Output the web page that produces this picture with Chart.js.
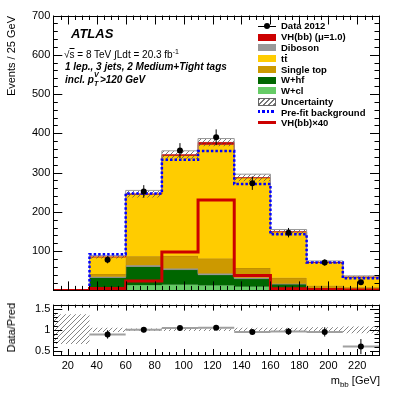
<!DOCTYPE html>
<html><head><meta charset="utf-8">
<script src="https://cdn.jsdelivr.net/npm/chart.js@4/dist/chart.umd.min.js"></script>
<style>
html,body{margin:0;padding:0;background:#fff;}
#wrap{position:relative;width:411px;height:395px;overflow:hidden;font-family:"Liberation Sans",Arial,Helvetica,sans-serif;color:#000;}
canvas{position:absolute;left:0;}
.t{position:absolute;white-space:nowrap;line-height:1;}
.lg{position:absolute;left:281px;font-size:9.5px;font-weight:bold;white-space:nowrap;line-height:1;}
.sym{position:absolute;left:258px;width:18px;}
.vt{position:absolute;white-space:nowrap;line-height:1;writing-mode:vertical-rl;transform:rotate(180deg);font-size:11px;}
</style></head>
<body><div id="wrap">
<canvas id="main" width="411" height="300" style="top:0;width:411px;height:300px"></canvas>
<canvas id="ratio" width="411" height="100" style="top:295px;width:411px;height:100px"></canvas>

<div class="t" style="left:71px;top:26.5px;font-size:13px;font-weight:bold;font-style:italic;">ATLAS</div>
<div class="t" style="left:64px;top:48px;font-size:10px;">√<span style="text-decoration:overline">s</span> = 8 TeV &#8747;Ldt = 20.3 fb<sup style="font-size:7px;vertical-align:4px">-1</sup></div>
<div class="t" style="left:65px;top:62px;font-size:10px;font-weight:bold;font-style:italic;">1 lep., 3 jets, 2 Medium+Tight tags</div>
<div class="t" style="left:65px;top:74.5px;font-size:10px;font-weight:bold;font-style:italic;">incl. p<span style="position:relative;display:inline-block;width:6px;"><span style="position:absolute;left:0;top:-4px;font-size:7px;">V</span><span style="position:relative;top:3px;font-size:7px;">T</span></span>&gt;120 GeV</div>

<div class="vt" style="left:6px;top:16px;">Events / 25 GeV</div>
<div class="vt" style="left:6px;top:303px;">Data/Pred</div>
<div class="t" style="right:31px;top:375px;font-size:11px;">m<sub style="font-size:8px;vertical-align:-3px">bb</sub> [GeV]</div>

<!-- legend -->
<div class="sym" style="top:25.5px;height:1px;background:#000;"></div>
<div class="sym" style="top:23px;left:264px;width:6px;height:6px;border-radius:3px;background:#000;"></div>
<div class="lg" style="top:21.3px;">Data 2012</div>
<div class="sym" style="top:33.5px;height:7px;background:#cc0000;"></div>
<div class="lg" style="top:32.3px;">VH(bb) (μ=1.0)</div>
<div class="sym" style="top:44.2px;height:7px;background:#999999;"></div>
<div class="lg" style="top:43px;">Diboson</div>
<div class="sym" style="top:55px;height:7px;background:#ffcc00;"></div>
<div class="lg" style="top:54.3px;">t<span style="position:relative;">t<span style="position:absolute;left:0.5px;right:0;top:0.8px;height:1px;background:#000;"></span></span></div>
<div class="sym" style="top:65.7px;height:7px;background:#cc9900;"></div>
<div class="lg" style="top:64.5px;">Single top</div>
<div class="sym" style="top:76.5px;height:7px;background:#006600;"></div>
<div class="lg" style="top:75.3px;">W+hf</div>
<div class="sym" style="top:87.2px;height:7px;background:#66cc66;"></div>
<div class="lg" style="top:86px;">W+cl</div>
<div class="sym" style="top:97.5px;height:6px;border:1px solid #666;width:16px;background:repeating-linear-gradient(135deg,#777 0 1px,#fff 1px 3.5px);"></div>
<div class="lg" style="top:96.8px;">Uncertainty</div>
<div class="sym" style="top:110.3px;height:2.5px;background:repeating-linear-gradient(90deg,#0000ff 0 2.5px,transparent 2.5px 4.5px);"></div>
<div class="lg" style="top:107.5px;">Pre-fit background</div>
<div class="sym" style="top:120.5px;height:3px;background:#cc0000;"></div>
<div class="lg" style="top:118.3px;">VH(bb)×40</div>
</div>

<script>
// ---------------- data ----------------
const binEdges   = [10, 35, 60, 85, 110, 135, 160, 185, 210, 235];
const binCenters = [22.5, 47.5, 72.5, 97.5, 122.5, 147.5, 172.5, 197.5, 222.5];

const wcl       = [0, 1, 14, 15, 13, 10, 3, 1, 0.5];
const whf       = [0, 32, 47, 38, 27, 20, 13, 4, 2];
const diboson   = [0, 2, 3, 3, 3, 2, 1, 1, 0.5];
const singleTop = [0, 7, 23, 32, 38, 25, 15, 6, 5];
const ttbar     = [0, 43, 158, 255, 290, 229, 117, 59, 26];
const vhSignal  = [0, 0.15, 0.6, 2.45, 5.75, 0.95, 0.1, 0.05, 0.03];
const bkgUncertainty = [0, 4, 9, 10, 10, 9, 6, 4, 3];

const prefitBkg  = [0, 92, 247, 333, 355, 271, 143, 71, 31];
const vhTimes40  = [0, 5, 24, 98, 230, 38, 4, 2, 1];

const dataCounts = [null, 78, 252, 356, 390, 273, 147, 71, 21];
const dataErrors = [null, 9, 16, 19, 20, 17, 12, 8, 5];

const ratioValues   = [null, 0.89, 1.00, 1.04, 1.05, 0.95, 0.96, 0.95, 0.60];
const ratioErrors   = [null, 0.10, 0.06, 0.05, 0.05, 0.06, 0.08, 0.11, 0.18];
const ratioBandLow  = [0.66, 0.95, 0.97, 0.97, 0.97, 0.95, 0.95, 0.94, 0.92];
const ratioBandHigh = [1.37, 1.05, 1.03, 1.03, 1.03, 1.05, 1.05, 1.06, 1.08];

const xTickValues     = [20, 40, 60, 80, 100, 120, 140, 160, 180, 200, 220];
const yTickValuesMain = [100, 200, 300, 400, 500, 600, 700];
const yTickValuesRatio = [0.5, 1, 1.5];

// ---------------- helpers ----------------
function steps(vals){
  const pts = vals.map((v,i)=>({x:binEdges[i], y:v}));
  pts.push({x:binEdges[vals.length], y:vals[vals.length-1]});
  return pts;
}
function vSegments(xs, vals, errs){
  const pts=[];
  vals.forEach((v,i)=>{ if(v==null) return;
    pts.push({x:xs[i],y:v-errs[i]},{x:xs[i],y:v+errs[i]},{x:xs[i],y:null}); });
  return pts;
}
function hSegments(vals){
  const pts=[];
  vals.forEach((v,i)=>{ if(v==null) return;
    pts.push({x:binEdges[i],y:v},{x:binEdges[i+1],y:v},{x:binEdges[i+1],y:null}); });
  return pts;
}
function hatch(color){
  const c=document.createElement('canvas'); c.width=c.height=5;
  const g=c.getContext('2d'); g.strokeStyle=color; g.lineWidth=0.8;
  g.beginPath(); g.moveTo(0,5); g.lineTo(5,0); g.moveTo(-1,1); g.lineTo(1,-1); g.moveTo(4,6); g.lineTo(6,4); g.stroke();
  return g.createPattern(c,'repeat');
}

Chart.defaults.font.family = '"Liberation Sans", Arial, Helvetica, sans-serif';
Chart.defaults.font.size = 11;
Chart.defaults.color = '#000';

// ROOT-like inward ticks on all four sides + frame
const rootAxes = {
  id:'rootAxes',
  afterDraw(chart, args, o){
    const {ctx, chartArea:a} = chart; const x=chart.scales.x, y=chart.scales.y;
    ctx.save(); ctx.strokeStyle='#000'; ctx.lineWidth=1; ctx.beginPath();
    const eps=1e-9;
    for(let v=o.xMinorStart; v<=x.max+eps; v+=o.xMinor){
      const isMaj = Math.abs((v/o.xMajor)-Math.round(v/o.xMajor))<1e-6;
      const L = isMaj?o.xMajLen:o.xMinLen; const px=Math.round(x.getPixelForValue(v))+0.5;
      ctx.moveTo(px,a.bottom); ctx.lineTo(px,a.bottom-L);
      ctx.moveTo(px,a.top); ctx.lineTo(px,a.top+L);
    }
    for(let k=0; ; k++){
      const v = Math.round((o.yMinorStart + k*o.yMinor)*1000)/1000; if(v>y.max+eps) break;
      if(v<y.min-eps) continue;
      const isMaj = Math.abs((v/o.yMajor)-Math.round(v/o.yMajor))<1e-6;
      const L = isMaj?o.yMajLen:o.yMinLen; const py=Math.round(y.getPixelForValue(v))+0.5;
      ctx.moveTo(a.left,py); ctx.lineTo(a.left+L,py);
      ctx.moveTo(a.right,py); ctx.lineTo(a.right-L,py);
    }
    ctx.stroke();
    ctx.strokeRect(Math.round(a.left)+0.5, Math.round(a.top)+0.5, Math.round(a.right)-Math.round(a.left), Math.round(a.bottom)-Math.round(a.top));
    ctx.restore();
  }
};

// ---------------- main panel ----------------
const comps = [
  {v:wcl, c:'#66cc66', b:'#559955'},
  {v:whf, c:'#006600', b:'#777777'},
  {v:diboson, c:'#999999', b:'#888888'},
  {v:singleTop, c:'#cc9900', b:'#b08000'},
  {v:ttbar, c:'#ffcc00', b:'#d4a800'},
  {v:vhSignal, c:'#cc0000', b:'#cc0000'}
];
let running = new Array(binEdges.length-1).fill(0);
const stackSets = comps.map((cp,k)=>{
  running = running.map((s,i)=>s+cp.v[i]);
  return {data:steps(running.slice()), stepped:'before', backgroundColor:cp.c, borderColor:cp.b, borderWidth:0.8,
          fill: k===0?'origin':'-1', order:30-k, pointRadius:0};
});
const totalPred = running.slice();
const uncLow  = totalPred.map((t,i)=>t-bkgUncertainty[i]);
const uncHigh = totalPred.map((t,i)=>t+bkgUncertainty[i]);

const mainSets = stackSets.concat([
  {data:steps(uncLow), stepped:'before', borderWidth:0, borderColor:'rgba(0,0,0,0)', fill:false, order:20, pointRadius:0},
  {data:steps(uncHigh), stepped:'before', borderWidth:1, borderColor:'#999999', backgroundColor:hatch('#555'), fill:'-1', order:19, pointRadius:0},
  {data:steps(prefitBkg), stepped:'before', borderWidth:2.5, borderColor:'#0000ff', borderDash:[2.5,2], borderCapStyle:'butt', fill:false, order:18, pointRadius:0},
  {data:steps(vhTimes40), stepped:'before', borderWidth:3, borderColor:'#cc0000', fill:false, order:17, pointRadius:0},
  {data:vSegments(binCenters, dataCounts, dataErrors), borderWidth:1, borderColor:'#000', fill:false, order:2, pointRadius:0, spanGaps:false},
  {data:binCenters.map((x,i)=>({x, y:dataCounts[i]})), showLine:false, pointRadius:3, pointBackgroundColor:'#000', pointBorderWidth:0, order:1}
]);

new Chart(document.getElementById('main'), {
  type:'line',
  data:{datasets:mainSets},
  options:{
    responsive:false, animation:false, events:[],
    layout:{padding:{left:0,right:32,top:15.5,bottom:6.5}},
    plugins:{legend:{display:false}, tooltip:{enabled:false},
      rootAxes:{xMajor:20,xMinor:5,xMinorStart:10,xMajLen:9,xMinLen:4.5,yMajor:100,yMinor:20,yMinorStart:0,yMajLen:9,yMinLen:4.5}},
    elements:{line:{tension:0}, point:{radius:0}},
    scales:{
      x:{type:'linear', min:10, max:235, ticks:{display:false}, grid:{display:false,drawTicks:false}, border:{display:false}, afterFit:s=>{s.height=0;}},
      y:{type:'linear', min:0, max:700,
         afterBuildTicks:s=>{s.ticks=yTickValuesMain.map(v=>({value:v}));},
         ticks:{padding:3, font:{size:11}, color:'#000'}, grid:{display:false,drawTicks:false}, border:{display:false},
         afterFit:s=>{s.width=53.3;}}
    }
  },
  plugins:[rootAxes]
});

// ---------------- ratio panel ----------------
const ratioSets = [
  {data:steps(ratioBandLow), stepped:'before', borderWidth:0, borderColor:'rgba(0,0,0,0)', fill:false, order:10, pointRadius:0},
  {data:steps(ratioBandHigh), stepped:'before', borderWidth:0, borderColor:'rgba(0,0,0,0)', backgroundColor:hatch('#666'), fill:'-1', order:9, pointRadius:0},
  {data:hSegments(ratioValues), borderWidth:2, borderColor:'#a0a0a0', fill:false, order:4, pointRadius:0, spanGaps:false},
  {data:vSegments(binCenters, ratioValues, ratioErrors), borderWidth:1, borderColor:'#000', fill:false, order:3, pointRadius:0, spanGaps:false},
  {data:binCenters.map((x,i)=>({x, y:ratioValues[i]})), showLine:false, pointRadius:3, pointBackgroundColor:'#000', pointBorderWidth:0, order:1}
];

new Chart(document.getElementById('ratio'), {
  type:'line',
  data:{datasets:ratioSets},
  options:{
    responsive:false, animation:false, events:[],
    layout:{padding:{left:0,right:32,top:6.7,bottom:0}},
    plugins:{legend:{display:false}, tooltip:{enabled:false},
      rootAxes:{xMajor:20,xMinor:5,xMinorStart:10,xMajLen:6,xMinLen:3,yMajor:0.5,yMinor:0.1,yMinorStart:0.4,yMajLen:9,yMinLen:4.5}},
    elements:{line:{tension:0}, point:{radius:0}},
    scales:{
      x:{type:'linear', min:10, max:235,
         afterBuildTicks:s=>{s.ticks=xTickValues.map(v=>({value:v}));},
         ticks:{padding:4, autoSkip:false, maxRotation:0, font:{size:11}, color:'#000'},
         grid:{display:false,drawTicks:false}, border:{display:false}, afterFit:s=>{s.height=40;}},
      y:{type:'linear', min:0.4, max:1.6,
         afterBuildTicks:s=>{s.ticks=yTickValuesRatio.map(v=>({value:v}));},
         ticks:{padding:3, font:{size:11}, color:'#000', callback:v=>String(v)},
         grid:{display:false,drawTicks:false}, border:{display:false}, afterFit:s=>{s.width=53.3;}}
    }
  },
  plugins:[rootAxes]
});
</script>
</body></html>
